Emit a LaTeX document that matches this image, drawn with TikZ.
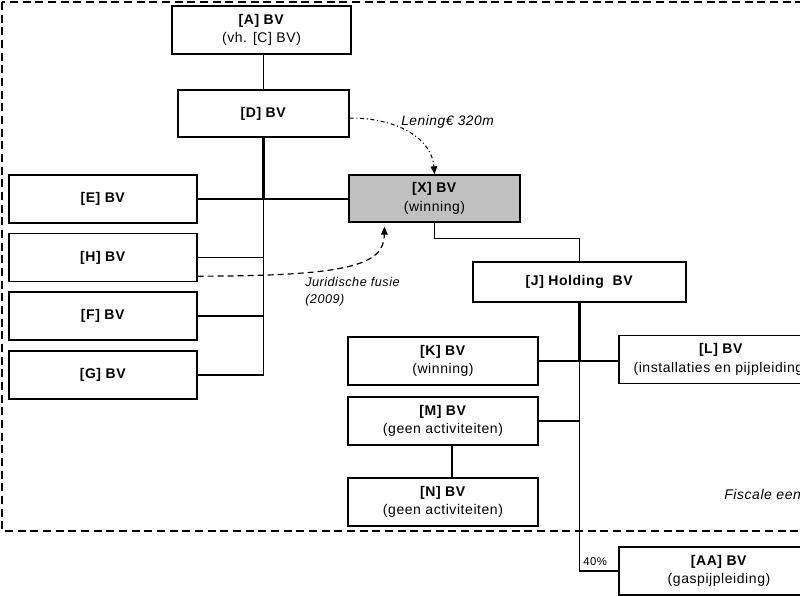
\documentclass[tikz,border=0pt]{standalone}
\usepackage{fontspec}
\setmainfont{Liberation Sans}[LetterSpace=4]
\usetikzlibrary{arrows.meta}
\definecolor{xgray}{RGB}{192,192,192}

\begin{document}
\begin{tikzpicture}[x=0.75pt,y=-0.75pt,
    entity/.style={draw,line width=1pt,minimum height=36pt,inner sep=0pt,align=center,font=\fontsize{10.5}{14}\selectfont},
    link/.style={line width=1pt},
    trunkline/.style={line width=1.6pt},
    note/.style={inner sep=0pt,font=\fontsize{9.5}{13}\selectfont\itshape},
    loan/.style={line width=0.8pt,dash dot,-{Triangle[length=6pt,width=5pt]}},
    merge/.style={line width=0.9pt,dash pattern=on 4.5pt off 3pt,-{Triangle[length=6pt,width=5pt]}},
    border/.style={line width=0.9pt,dash pattern=on 6pt off 3.5pt}]
        \useasboundingbox (0,0) rectangle (800,596);
        \clip (0,0) rectangle (800,596);
        \draw[border] (2,2) rectangle (830,531);
        \node[entity,minimum width=134.25pt] (A) at (261.5,30) {\textbf{[A] BV}\\(vh. [C] BV)};
        \node[entity,minimum width=128.25pt,minimum height=35.25pt] (D) at (263.5,113.5) {\textbf{[D] BV}};
        \node[entity,minimum width=141pt] (E) at (103,199) {\textbf{[E] BV}};
        \node[entity,minimum width=141pt] (H) at (103,257.5) {\textbf{[H] BV}};
        \node[entity,minimum width=141pt] (F) at (103,316) {\textbf{[F] BV}};
        \node[entity,minimum width=141pt] (G) at (103,375) {\textbf{[G] BV}};
        \node[entity,minimum width=128.25pt,minimum height=35.25pt,fill=xgray] (X) at (434.5,198.5) {\textbf{[X] BV}\\(winning)};
        \node[entity,minimum width=159.75pt,minimum height=30pt] (J) at (579.5,282) {\textbf{[J] Holding\ \ BV}};
        \node[entity,minimum width=142.5pt] (K) at (443,361) {\textbf{[K] BV}\\(winning)};
        \node[entity,minimum width=153pt] (L) at (721,359.5) {\textbf{[L] BV}\\(installaties en pijpleiding)};
        \node[entity,minimum width=142.5pt] (M) at (443,421) {\textbf{[M] BV}\\(geen activiteiten)};
        \node[entity,minimum width=142.5pt] (N) at (443,502) {\textbf{[N] BV}\\(geen activiteiten)};
        \node[entity,minimum width=150pt] (AA) at (719,571) {\textbf{[AA] BV}\\(gaspijpleiding)};
        \draw[link] (D.north |- A.south) -- (D.north);
        \draw[trunkline] (D.south) -- (D.south |- E);
        \draw[link] (D.south |- E) -- (D.south |- G);
        \draw[link] (E.east) -- (E.east -| X.west);
        \draw[link] (H.east) -- (H.east -| D.south);
        \draw[link] (F.east) -- (F.east -| D.south);
        \draw[link] (G.east) -- (G.east -| D.south);
        \draw[link] (X.south) -- ++(0,16) -| (J.north);
        \draw[trunkline] (J.south) -- (J.south |- K);
        \draw[link] (J.south |- K) -- (J.south |- AA) -- (AA.west);
        \draw[link] (K.east) -- (K.east -| L.west);
        \draw[link] (M.east) -- (M.east -| J.south);
        \draw[link] ([xshift=6.75pt]M.south) -- ([xshift=6.75pt]N.north);
        \node[inner sep=0pt,anchor=south west,font=\fontsize{8.5}{10}\selectfont] (pct) at (583,566) {40\%};
        \node[note,anchor=west,font=\fontsize{10.3}{13}\selectfont\itshape] (lening) at (401,122) {Lening€ 320m};
        \draw[loan] ([yshift=-3.4pt]D.east) .. controls (400,118) and (432,140) .. (X.north);
        \coordinate (fusie) at ([xshift=-37.5pt,yshift=-3pt]X.south);
        \draw[merge] ([yshift=4.5pt]H.south east) .. controls (350,276) and (384,265) .. (fusie);
        \node[note,anchor=north west,align=left] (fusielbl) at (305,277) {Juridische fusie\\(2009)};
        \node[note,anchor=west,font=\fontsize{10.5}{13}\selectfont\itshape] (fiscaal) at (724,494) {Fiscale eenheid};
    \end{tikzpicture}
\end{document}
